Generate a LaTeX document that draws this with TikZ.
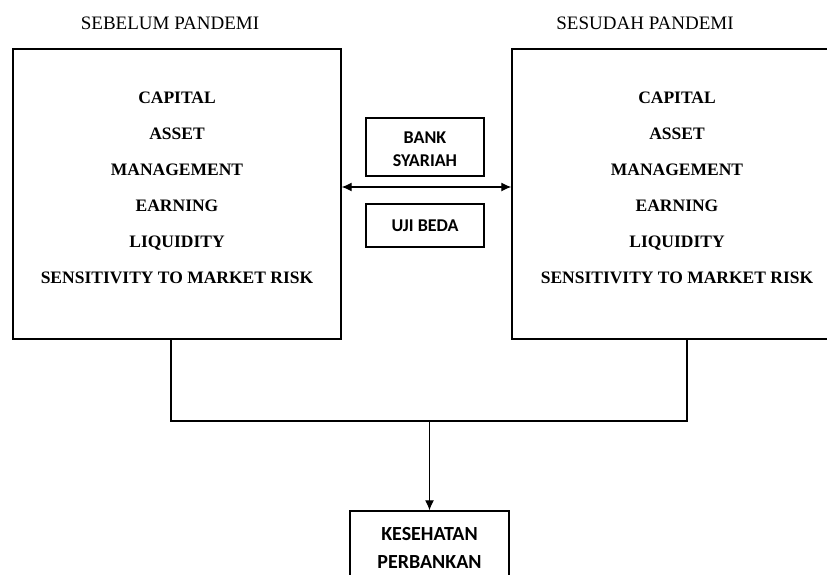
\documentclass[tikz,border=0pt]{standalone}
\usepackage{fontspec}
\setmainfont{Liberation Serif}
\newfontfamily\calib{Carlito}
\usetikzlibrary{arrows.meta,calc}
\tikzset{
  bigbox/.style={draw, line width=1.4pt, minimum width=328pt, minimum height=290pt, inner sep=0pt},
  smallbox/.style={draw, line width=1.2pt, minimum width=118pt, inner sep=0pt},
  smalltext/.style={font=\calib\bfseries\fontsize{18}{23}\selectfont, align=center, inner sep=0pt},
  listtext/.style={font=\bfseries\fontsize{17.5}{36}\selectfont, align=center, inner sep=0pt},
  title/.style={font=\fontsize{19}{22}\selectfont, inner sep=0pt},
  conn/.style={line width=1.1pt},
  tip/.style={-{Latex[length=10pt,width=9pt]}}
}
\begin{document}
\begin{tikzpicture}[x=1pt,y=-1pt]
\useasboundingbox (0,0) rectangle (827,574);
\clip (0,0) rectangle (827,574);
\fill[white] (0,0) rectangle (827,574);
\node[title] (tl) at (170,23) {SEBELUM PANDEMI};
\node[title] (tr) at (645,23) {SESUDAH PANDEMI};
\node[bigbox] (L) at (177,194) {};
\node[bigbox, minimum width=330pt] (R) at (677,194) {};
\node[listtext] (Lt) at (177,187.5) {CAPITAL\\ASSET\\MANAGEMENT\\EARNING\\LIQUIDITY\\SENSITIVITY TO MARKET RISK};
\node[listtext] (Rt) at (677,187.5) {CAPITAL\\ASSET\\MANAGEMENT\\EARNING\\LIQUIDITY\\SENSITIVITY TO MARKET RISK};
\node[smallbox, minimum height=58pt] (bs) at (425,147) {};
\node[smalltext] (bst) at (425,149) {BANK\\SYARIAH};
\node[smallbox, minimum height=43pt] (ub) at (425,225.5) {};
\node[smalltext] (ubt) at (425,226) {UJI BEDA};
\coordinate (ay) at (0,187);
\draw[conn, {Latex[length=10pt,width=9pt]}-{Latex[length=10pt,width=9pt]}] (L.east |- ay) -- (R.west |- ay);
\node[draw, line width=1.4pt, minimum width=159pt, minimum height=90pt, inner sep=0pt] (K) at (429.5,556) {};
\node[font=\calib\bfseries\fontsize{20}{28}\selectfont, align=center, inner sep=0pt] (Kt) at (429.5,548) {KESEHATAN\\PERBANKAN};
\coordinate (J) at (429.5,421);
\draw[conn] ([xshift=-6pt]L.south) |- (J) -| ([xshift=10pt]R.south);
\draw[conn, tip] (J) -- (K.north);
\end{tikzpicture}
\end{document}
